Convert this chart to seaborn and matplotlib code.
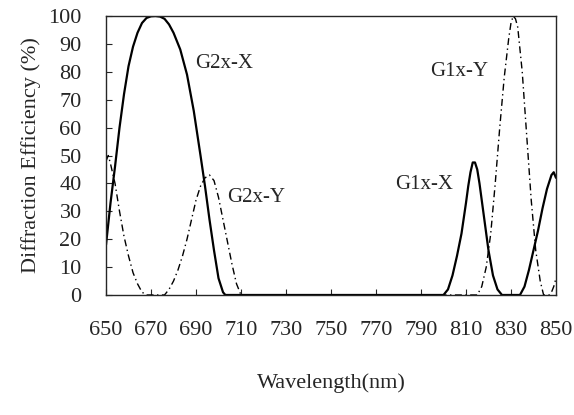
# Diffraction efficiency vs wavelength
import numpy as np
import pandas as pd
import seaborn as sns
from matplotlib import pyplot as plt

# G2x-X (solid)
g2x_x_wl = [650, 652, 654, 656, 658, 660, 662, 664, 666, 668, 670, 672, 674, 676, 678, 680, 683, 686, 689, 692, 694, 696, 698, 700, 702, 703]
g2x_x_eff = [18, 33, 46, 60, 72, 82, 89, 94, 97.5, 99.3, 99.9, 100, 99.8, 99, 97, 94, 88, 79, 66, 50, 39, 27, 16, 6, 1, 0]

# G2x-Y (dash-dot)
g2x_y_wl = [650, 651, 652, 654, 656, 658, 660, 662, 664, 666, 668, 676, 678, 680, 682, 684, 686, 688, 690, 692, 694, 696, 698, 700, 702, 704, 706, 708, 710]
g2x_y_eff = [48, 50, 47, 40, 30, 21, 14, 8, 4, 1, 0, 0, 2, 5, 9, 14, 20, 27, 34, 39, 42, 43, 41, 35, 27, 19, 11, 4, 0]

# G1x-X (solid)
g1x_x_wl = [703, 800, 802, 804, 806, 808, 810, 811, 812, 813, 814, 815, 816, 818, 820, 822, 824, 826, 834, 836, 838, 840, 842, 844, 846, 848, 849, 850]
g1x_x_eff = [0, 0, 2, 7, 14, 22, 33, 39, 44, 47.5, 47.5, 45, 40, 28, 16, 7, 2, 0, 0, 3, 9, 16, 23, 31, 38, 43, 44, 42]

# G1x-Y (dash-dot)
g1x_y_wl = [710, 815, 817, 819, 821, 823, 825, 827, 829, 830, 831, 832, 833, 835, 837, 839, 841, 843, 844.5, 847, 848, 849, 850]
g1x_y_eff = [0, 0, 3, 10, 22, 40, 60, 78, 92, 97.5, 100, 99, 96, 80, 57, 34, 16, 5, 0, 0, 1, 3, 6]

labels = ['G2x-X', 'G2x-Y', 'G1x-X', 'G1x-Y']
label_pos = [(689.5, 83), (704, 35), (778.5, 39.5), (794, 80)]

xticks = list(range(650, 851, 20))
yticks = list(range(0, 101, 10))

sns.set_style('ticks')
plt.rcParams['font.family'] = ['Liberation Serif', 'DejaVu Serif']

fig = plt.figure(figsize=(5.74, 4.15), dpi=100)
ax = fig.add_axes([0.1847, 0.2892, 0.7839, 0.6722])

series = [
    (g2x_x_wl, g2x_x_eff, '-', 1.6),
    (g2x_y_wl, g2x_y_eff, (0, (5, 2.5, 1, 2.5)), 1.0),
    (g1x_x_wl, g1x_x_eff, '-', 1.6),
    (g1x_y_wl, g1x_y_eff, (0, (5, 2.5, 1, 2.5)), 1.0),
]
for wl, eff, ls, lw in series:
    df = pd.DataFrame({'wl': wl, 'eff': eff})
    sns.lineplot(data=df, x='wl', y='eff', ax=ax, color='black',
                 estimator=None, sort=False, linewidth=lw, linestyle=ls)

for name, (x, y) in zip(labels, label_pos):
    ax.text(x, y, name, fontsize=15, ha='left', va='center')

ax.set_xlim(650, 850)
ax.set_ylim(0, 100)
ax.set_xticks(xticks)
ax.set_yticks(yticks)
ax.tick_params(axis='both', direction='in', length=4, width=0.8, labelsize=16)
ax.tick_params(axis='x', pad=19)
ax.tick_params(axis='y', pad=17.5)
for s in ax.spines.values():
    s.set_linewidth(1.0)

ax.set_xlabel('Wavelength(nm)', fontsize=16, labelpad=24)
ax.set_ylabel('Diffraction Efficiency (%)', fontsize=16, labelpad=5)

fig.savefig('out.png', dpi=100)
